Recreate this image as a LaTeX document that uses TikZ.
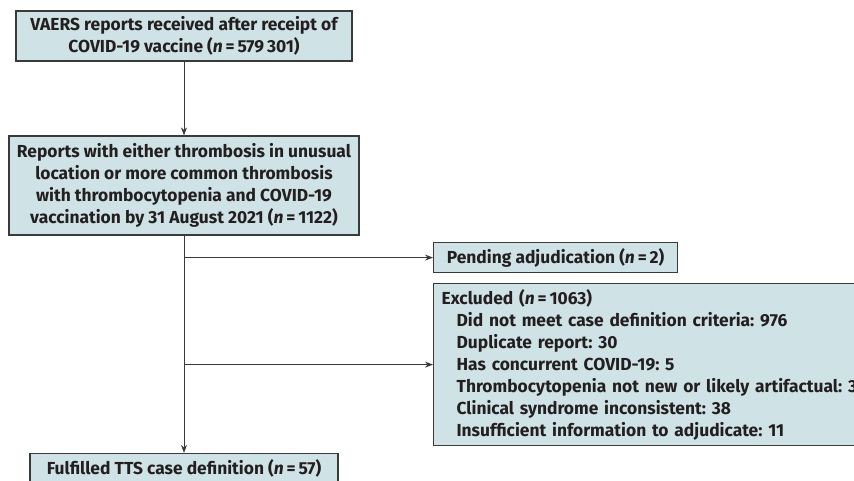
\documentclass[tikz,border=0pt]{standalone}
\usepackage{fontspec}
\setmainfont{Fira Sans}
\usetikzlibrary{arrows.meta,positioning}
\definecolor{boxfill}{HTML}{CFE2E6}
\definecolor{ink}{HTML}{231F20}
\definecolor{edge}{HTML}{3A3A3A}
\begin{document}
\frenchspacing
\begin{tikzpicture}[x=1pt,y=-1pt,
  font=\fontsize{17.4}{22}\selectfont\bfseries,
  flowbox/.style={draw=edge,line width=1.2pt,fill=boxfill,text=ink,inner sep=0pt,align=center},
  conn/.style={draw=edge,line width=0.9pt,-{Stealth[length=8pt,width=6pt]}},
  ]
\useasboundingbox (0,0) rectangle (854,481);
\clip (0,0) rectangle (854,481);
\node[flowbox,minimum width=336pt,minimum height=50pt] (b1) at (184,36)
  {VAERS reports received after receipt of\\COVID-19 vaccine (\textit{n}\,=\,579\,301)};
\node[flowbox,minimum width=350pt,minimum height=99pt] (b2) at (184,185.5)
  {Reports with either thrombosis in unusual\\location or more common thrombosis\\with thrombocytopenia and COVID-19\\vaccination by 31 August 2021 (\textit{n}\,=\,1122)};
\node[flowbox,minimum width=308pt,minimum height=30pt] (b3) at (184,468.5)
  {Fulfilled TTS case definition (\textit{n}\,=\,57)};
\node[flowbox,minimum width=244pt,minimum height=30pt,anchor=north west] (pend) at (433,242)
  {Pending adjudication (\textit{n}\,=\,2)};
\node[flowbox,minimum width=480pt,minimum height=162pt,anchor=north west,align=left,text width=464pt,
  inner xsep=8pt] (excl) at (433,283)
  {Excluded (\textit{n}\,=\,1063)\\
   \hspace*{15pt}Did not meet case definition criteria: 976\\
   \hspace*{15pt}Duplicate report: 30\\
   \hspace*{15pt}Has concurrent COVID-19: 5\\
   \hspace*{15pt}Thrombocytopenia not new or likely artifactual: 3\\
   \hspace*{15pt}Clinical syndrome inconsistent: 38\\
   \hspace*{15pt}Insufficient information to adjudicate: 11};
\draw[conn] (b1) -- (b2);
\draw[conn] (b2) -- (b3);
\coordinate (j1) at (b2.south |- pend.west);
\coordinate (j2) at (b2.south |- excl.west);
\draw[conn] (j1) -- (pend.west);
\draw[conn] (j2) -- (excl.west);
\end{tikzpicture}
\end{document}
